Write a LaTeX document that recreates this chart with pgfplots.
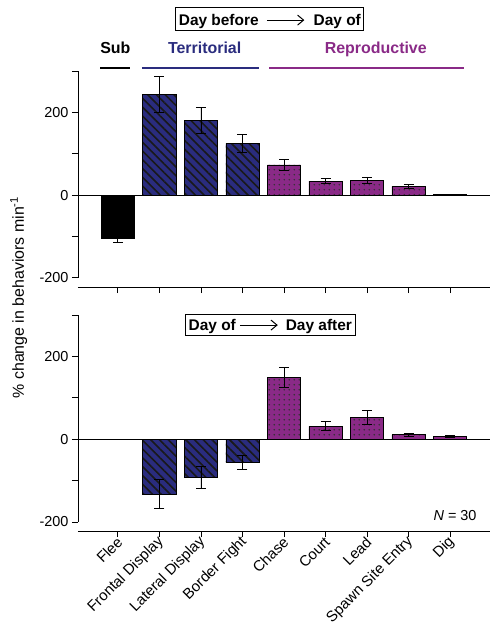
\documentclass[border=0pt]{standalone}
\usepackage{fontspec}
\setmainfont{Liberation Sans}
\usepackage{pgfplots}
\pgfplotsset{compat=1.18}
\usetikzlibrary{patterns.meta,arrows.meta}
\definecolor{navyb}{RGB}{42,44,126}
\definecolor{purp}{RGB}{138,42,135}

\pgfplotsset{
 panel/.style={
  scale only axis, width=412bp, height=216bp,
  xmin=-0.96, xmax=8.96, ymin=-222, ymax=300,
  axis x line=bottom, axis y line=left,
  axis line style={-, line width=0.8bp},
  y axis line style={shorten <=9.1bp},
  tick align=outside, major tick length=6bp, minor tick length=6bp,
  tick style={black, line width=0.8bp},
  xtick={0,...,8}, ytick={-200,0,200}, yticklabels={-200,0,200},
  minor ytick={-100,100,300},
  yticklabel style={font=\fontsize{14.5}{17}\selectfont},
  clip=false,
 },
 barbase/.style={ybar, bar width=0.8, bar shift=0pt, draw=black, line width=0.6bp,
  error bars/y dir=both, error bars/y explicit,
  error bars/error bar style={black, line width=0.8bp},
  error bars/error mark options={black, rotate=90, mark size=5bp, line width=0.8bp}},
 sub/.style={barbase, fill=black},
 terr/.style={barbase, fill=navyb, postaction={pattern={Lines[angle=-45,distance=6.2bp,line width=1.6bp]}, pattern color=black!90}},
 repr/.style={barbase, fill=purp, postaction={pattern={Dots[distance=5.2bp,radius=0.9bp]}, pattern color=black!80}},
}

\begin{document}
\begin{tikzpicture}
% ---------- top panel ----------
\begin{axis}[panel, name=top, anchor=north west, at={(0,0)}, xticklabels={}]
\addplot[sub] coordinates {(0,-104) +- (0,11)};
\addplot[terr] coordinates {(1,243) +- (0,43) (2,180) +- (0,32) (3,125) +- (0,21)};
\addplot[repr] coordinates {(4,73) +- (0,14) (5,34) +- (0,6.5) (6,36) +- (0,8) (7,21) +- (0,4) (8,1) +- (0,0)};
\draw[line width=0.8bp] (axis cs:-0.96,0) -- (axis cs:8.96,0);
% group lines and labels
\draw[black, line width=1.6bp] (axis cs:-0.43,307) -- (axis cs:0.28,307);
\draw[navyb, line width=1.6bp] (axis cs:0.58,307) -- (axis cs:3.41,307);
\draw[purp, line width=1.6bp] (axis cs:3.64,307) -- (axis cs:8.34,307);
\node[anchor=base, font=\bfseries\fontsize{16}{19}\selectfont, text=black] at (axis cs:-0.06,343) {Sub};
\node[anchor=base, font=\bfseries\fontsize{16}{19}\selectfont, text=navyb] at (axis cs:2.09,343) {Territorial};
\node[anchor=base, font=\bfseries\fontsize{16}{19}\selectfont, text=purp] at (axis cs:6.21,343) {Reproductive};
% title box
\node[draw, line width=0.8bp, anchor=base, font=\bfseries\fontsize{15.5}{18}\selectfont,
      inner xsep=3bp, inner ysep=0pt, text height=18bp, text depth=5bp] at (axis cs:3.66,411)
      {Day before\hspace{55bp}Day of};
\draw[line width=1bp, -{Straight Barb[length=6bp,width=10bp,line width=1bp]}] (axis cs:3.59,423) -- (axis cs:4.49,423);
\end{axis}
% ---------- bottom panel ----------
\begin{axis}[panel, name=bot, anchor=north west, at={(0,-244bp)},
  xticklabels={Flee,Frontal Display,Lateral Display,Border Fight,Chase,Court,Lead,Spawn Site Entry,Dig},
  xticklabel style={rotate=45, anchor=east, xshift=3bp, yshift=-3bp, font=\fontsize{15}{18}\selectfont}]
\addplot[sub] coordinates {(0,-1) +- (0,0)};
\addplot[terr] coordinates {(1,-133) +- (0,35) (2,-93) +- (0,27) (3,-56) +- (0,17)};
\addplot[repr] coordinates {(4,149) +- (0,25) (5,31) +- (0,11) (6,53) +- (0,17) (7,10.5) +- (0,3.5) (8,7) +- (0,2)};
\draw[line width=0.8bp] (axis cs:-0.96,0) -- (axis cs:8.96,0);
\node[draw, line width=0.8bp, anchor=base, font=\bfseries\fontsize{15.5}{18}\selectfont,
      inner xsep=3bp, inner ysep=0pt, text height=16bp, text depth=5.7bp] at (axis cs:3.67,263.7)
      {Day of\hspace{50bp}Day after};
\draw[line width=1bp, -{Straight Barb[length=6bp,width=10bp,line width=1bp]}] (axis cs:2.94,275.6) -- (axis cs:3.85,275.6);
\node[anchor=base east, font=\fontsize{14.5}{17}\selectfont] at (axis cs:8.72,-195.5) {\textit{N} = 30};
\end{axis}
% y label
\node[rotate=90, anchor=base, font=\fontsize{16}{19}\selectfont] at (-54bp,-226.5bp)
  {\% change in behaviors min\textsuperscript{-1}};
% page frame matching the reference
\path (-78bp,71bp) rectangle (419bp,-560bp);
\end{tikzpicture}
\end{document}
